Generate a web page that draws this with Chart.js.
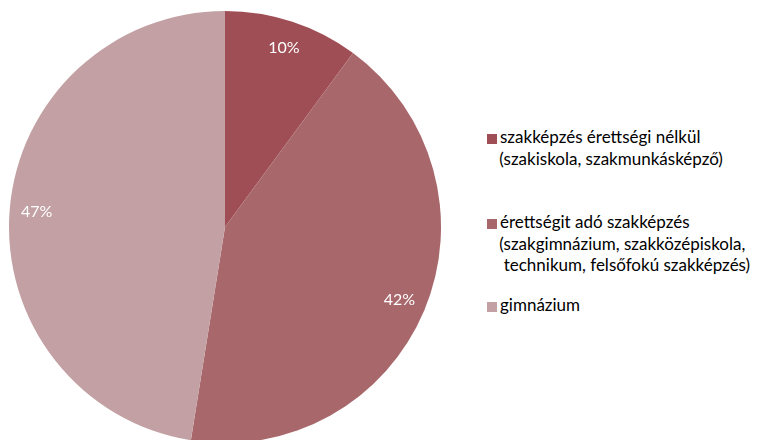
<!DOCTYPE html>
<html>
<head>
<meta charset="utf-8">
<script src="https://cdn.jsdelivr.net/npm/chart.js@4/dist/chart.umd.min.js"></script>
<style>
  html, body { margin: 0; padding: 0; background: #fff; overflow: hidden; }
  #wrap { position: relative; width: 759px; height: 440px; }
  #pie-box { position: absolute; left: 0; top: 0; width: 450px; height: 454px; }
  #legend { position: absolute; left: 487px; top: 0; font-family: Lato, "Open Sans", sans-serif; font-size: 17px; color: #000; }
  .item { position: absolute; white-space: nowrap; }
  .item .line { height: 21.5px; line-height: 21.5px; }
  .item .box { display: inline-block; width: 10px; height: 10px; margin-right: 3px; vertical-align: -1px; }
</style>
</head>
<body>
<div id="wrap">
  <div id="pie-box"><canvas id="pie-chart"></canvas></div>
  <div id="legend"></div>
</div>
<script>
// categories (each legend entry may span several lines)
let categories = [
    ['szakképzés érettségi nélkül', ' (szakiskola, szakmunkásképző)'],
    ['érettségit adó szakképzés', ' (szakgimnázium, szakközépiskola,', '  technikum, felsőfokú szakképzés)'],
    ['gimnázium']
]
let shares = [10, 42, 47]  // percent
let sliceColors = ['#a04e55', '#a8686b', '#c2a0a3']

// write the percent label inside each slice, a bit in from the rim
let sliceLabels = {
    id: 'sliceLabels',
    afterDatasetsDraw(chart) {
        let ctx = chart.ctx
        let meta = chart.getDatasetMeta(0)
        ctx.save()
        ctx.fillStyle = '#ffffff'
        ctx.font = '16px Lato, "Open Sans", sans-serif'
        ctx.textAlign = 'center'
        ctx.textBaseline = 'middle'
        meta.data.forEach(function(arc, i) {
            let mid = (arc.startAngle + arc.endAngle) / 2
            let r = arc.outerRadius * 0.875
            ctx.fillText(shares[i] + '%', arc.x + Math.cos(mid) * r, arc.y + Math.sin(mid) * r)
        })
        ctx.restore()
    }
}

let canvas = document.querySelector('#pie-chart')
let chart = new Chart(canvas.getContext('2d'), {
    type: 'pie',
    data: {
        labels: categories.map(c => c.join(' ')),
        datasets: [{
            data: shares,
            backgroundColor: sliceColors,
            borderWidth: 0
        }]
    },
    options: {
        responsive: true,
        maintainAspectRatio: false,
        animation: false,
        layout: { padding: 9 },
        plugins: {
            legend: { display: false },
            tooltip: { enabled: false }
        }
    },
    plugins: [sliceLabels]
})

// html legend on the right, built from the same arrays
let legendTops = [126, 211, 294]
let legend = document.querySelector('#legend')
categories.forEach(function(lines, i) {
    let item = document.createElement('div')
    item.className = 'item'
    item.style.top = legendTops[i] + 'px'
    lines.forEach(function(text, j) {
        let line = document.createElement('div')
        line.className = 'line'
        if (j === 0) {
            let box = document.createElement('span')
            box.className = 'box'
            box.style.background = sliceColors[i]
            line.appendChild(box)
            line.appendChild(document.createTextNode(text))
        } else {
            line.style.paddingLeft = '8px'
            line.style.whiteSpace = 'pre'
            line.textContent = text
        }
        item.appendChild(line)
    })
    legend.appendChild(item)
})
</script>
</body>
</html>
